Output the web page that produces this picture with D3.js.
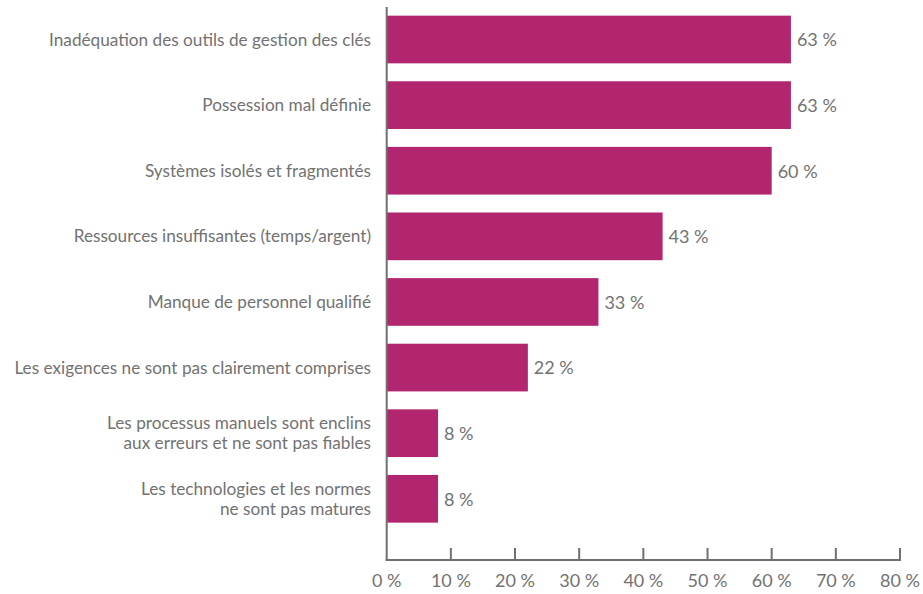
<!DOCTYPE html>
<html><head><meta charset="utf-8">
<script src="https://cdn.jsdelivr.net/npm/d3@7"></script>
<style>body{margin:0;background:#fff;} text{font-family:Lato, "Open Sans", sans-serif;}</style>
</head><body>
<svg id="c" width="923" height="594"></svg>
<script>
const categories = [
  ["Inadéquation des outils de gestion des clés"],
  ["Possession mal définie"],
  ["Systèmes isolés et fragmentés"],
  ["Ressources insuffisantes (temps/argent)"],
  ["Manque de personnel qualifié"],
  ["Les exigences ne sont pas clairement comprises"],
  ["Les processus manuels sont enclins", "aux erreurs et ne sont pas fiables"],
  ["Les technologies et les normes", "ne sont pas matures"]
];
const values = [63, 63, 60, 43, 33, 22, 8, 8];
const xTicks = [0, 10, 20, 30, 40, 50, 60, 70, 80];

const svg = d3.select("#c");
const x0 = 386.7, x1 = 900, yTop = 7, yAxis = 560;
const x = d3.scaleLinear().domain([0, 80]).range([x0, x1]);
const y = d3.scaleBand().domain(d3.range(categories.length)).range([6.7, 531.6]).paddingInner(0.273).paddingOuter(0.1365);
const grey = "#707070", txt = "#727272", barColor = "#B2256F";

svg.selectAll("rect.bar").data(values).join("rect")
  .attr("x", x(0)).attr("y", (d,i)=>y(i))
  .attr("width", d=>x(d)-x(0)).attr("height", y.bandwidth())
  .attr("fill", barColor);

svg.selectAll("text.val").data(values).join("text")
  .attr("x", d=>x(d)+6).attr("y", (d,i)=>y(i)+y.bandwidth()/2)
  .attr("dy", "0.38em").attr("fill", txt).attr("font-size", 18)
  .text(d=>d+" %");

const lab = svg.selectAll("text.lab").data(categories).join("text")
  .attr("text-anchor", "end").attr("fill", txt).attr("font-size", 17.2)
  .attr("x", 371).attr("y", (d,i)=>y(i)+y.bandwidth()/2);
lab.each(function(d){
  const t = d3.select(this);
  const n = d.length, lh = 20.5;
  d.forEach((line, j)=>{
    t.append("tspan").attr("x", 371)
      .attr("dy", j===0 ? ((-(n-1)/2*lh)+6)+"px" : lh+"px").text(line);
  });
});

// axes
svg.append("line").attr("x1", x0).attr("x2", x0).attr("y1", yTop).attr("y2", yAxis+1)
  .attr("stroke", grey).attr("stroke-width", 2);
svg.append("line").attr("x1", x0-1).attr("x2", x1+1).attr("y1", yAxis).attr("y2", yAxis)
  .attr("stroke", grey).attr("stroke-width", 2);
svg.selectAll("line.tick").data(xTicks.slice(1)).join("line")
  .attr("x1", d=>x(d)).attr("x2", d=>x(d)).attr("y1", yAxis-12).attr("y2", yAxis)
  .attr("stroke", grey).attr("stroke-width", 2);
svg.selectAll("text.tl").data(xTicks).join("text")
  .attr("x", d=>x(d)).attr("y", 587).attr("text-anchor", "middle")
  .attr("fill", txt).attr("font-size", 18).text(d=>d+" %");
</script>
</body></html>
